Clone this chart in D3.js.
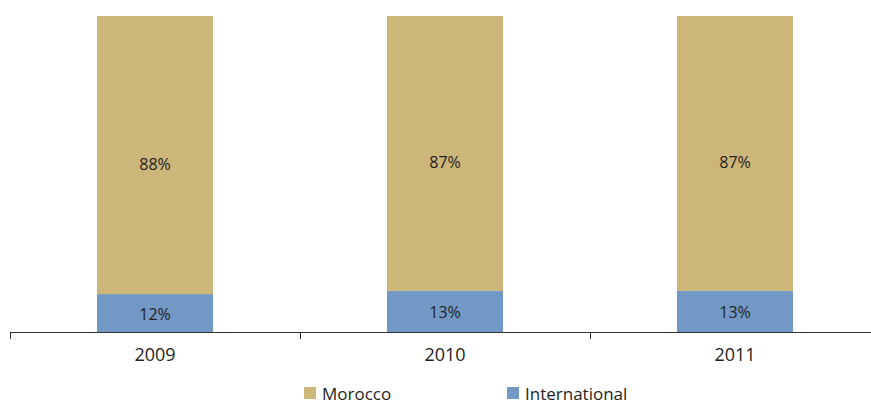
<!DOCTYPE html>
<html>
<head>
<meta charset="utf-8">
<script src="https://cdn.jsdelivr.net/npm/d3@7"></script>
<style>
  html, body { margin: 0; padding: 0; background: #fff; }
  svg { display: block; font-family: "Open Sans", "DejaVu Sans", sans-serif; }
</style>
</head>
<body>
<svg id="chart" width="871" height="405"></svg>
<script>
// Share of revenue by origin, per year
const years = ["2009", "2010", "2011"];
const morocco = [88, 87, 87];
const international = [12, 13, 13];
const seriesNames = ["Morocco", "International"];
const seriesColors = ["#CDB67A", "#7299C6"];

const svg = d3.select("#chart");
const margin = { left: 10, top: 16, bottom: 73 };
const plotBottom = 405 - margin.bottom;

const x = d3.scaleBand().domain(years).range([margin.left, 880]).paddingInner(0).paddingOuter(0);
const y = d3.scaleLinear().domain([0, 100]).range([plotBottom, margin.top]);
const barW = x.bandwidth() * 0.4;

const rows = years.map((yr, i) => ({ year: yr, Morocco: morocco[i], International: international[i] }));
const stacked = d3.stack().keys(["International", "Morocco"])(rows);
const color = d3.scaleOrdinal().domain(seriesNames).range(seriesColors);

const layers = svg.append("g").selectAll("g").data(stacked).join("g")
  .attr("fill", d => color(d.key));

layers.selectAll("rect").data(d => d).join("rect")
  .attr("x", d => x(d.data.year) + (x.bandwidth() - barW) / 2)
  .attr("width", barW)
  .attr("y", d => y(d[1]))
  .attr("height", d => y(d[0]) - y(d[1]));

// value labels inside each segment
layers.each(function(layer) {
  const isTop = layer.key === "Morocco";
  d3.select(this).selectAll("text").data(layer).join("text")
    .attr("x", d => x(d.data.year) + x.bandwidth() / 2)
    .attr("y", d => (y(d[0]) + y(d[1])) / 2 + (isTop ? 9 : 1))
    .attr("dy", "0.35em")
    .attr("text-anchor", "middle")
    .attr("fill", "#231f20")
    .attr("font-size", 16)
    .text(d => (d[1] - d[0]) + "%");
});

// category axis
const axis = d3.axisBottom(x).tickSize(7).tickSizeOuter(0).tickPadding(9);
const gx = svg.append("g").attr("transform", `translate(0,${plotBottom})`).call(axis);
gx.select(".domain").attr("stroke", "#333").attr("d", `M${margin.left},0.5H871`);
gx.selectAll(".tick line").remove();
gx.selectAll(".tick text").attr("font-size", 18).attr("fill", "#231f20")
  .attr("font-family", "\"Open Sans\", sans-serif");
// boundary ticks between categories
gx.selectAll(".sep").data(years).join("line")
  .attr("class", "sep")
  .attr("x1", d => x(d) + 0.5).attr("x2", d => x(d) + 0.5)
  .attr("y1", 0).attr("y2", 7)
  .attr("stroke", "#333");

// legend
const legendX = [304, 507];
const lg = svg.append("g").selectAll("g").data(seriesNames).join("g")
  .attr("transform", (d, i) => `translate(${legendX[i]},387)`);
lg.append("rect").attr("width", 12).attr("height", 12).attr("fill", d => color(d));
lg.append("text").attr("x", 18).attr("y", 10).attr("dy", "0.15em")
  .attr("font-size", 17).attr("fill", "#231f20").text(d => d);
</script>
</body>
</html>
